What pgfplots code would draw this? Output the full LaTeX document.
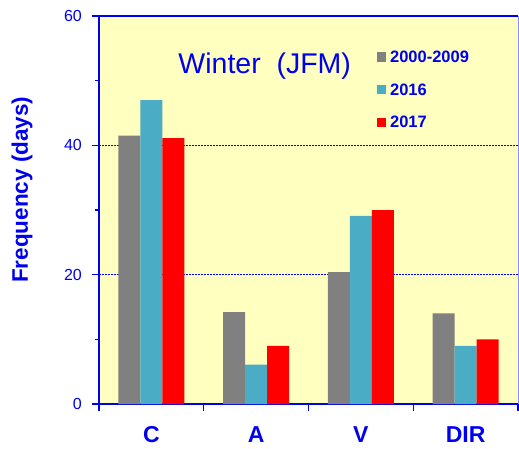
\documentclass[border=0pt]{standalone}
\usepackage{pgfplots}
\pgfplotsset{compat=1.18}
\usepackage{fontspec}
\setmainfont{Liberation Sans}
\definecolor{bg}{RGB}{255,255,192}
\definecolor{cgray}{RGB}{128,128,128}
\definecolor{cteal}{RGB}{75,172,198}
\definecolor{cred}{RGB}{255,0,0}
\definecolor{tblue}{RGB}{0,0,240}
\begin{document}
\begin{tikzpicture}
\useasboundingbox (-99pt,-44pt) rectangle (420pt,404pt);
\begin{axis}[
  at={(0pt,0pt)}, anchor=south west,
  scale only axis, width=419pt, height=388pt,
  xmin=-0.5, xmax=3.5, ymin=0, ymax=60,
  axis lines*=left,
  axis line style={tblue, line width=1.6pt},
  axis background/.style={fill=bg},
  ybar=0pt, bar width=22pt,
  xtick={-0.5,0.5,1.5,2.5,3.5}, xticklabels={C,A,V,DIR,{}},
  xticklabel style={font=\fontsize{23}{23}\selectfont\bfseries, text=tblue, anchor=north, inner sep=0pt, yshift=-15pt, xshift=52.4pt},
  ytick={0,20,40,60}, minor ytick={10,30,50},
  tick align=outside, major tick length=7pt, minor tick length=3.5pt,
  tick style={tblue, line width=1.2pt},
  /pgf/number format/assume math mode=true,
  yticklabel style={font=\fontsize{16}{16}\selectfont, text=tblue, anchor=east, inner sep=0pt, xshift=-10pt},
  ymajorgrids, grid style={tblue, dash pattern=on 2pt off 1pt, line width=0.6pt},
  ylabel={Frequency (days)},
  every axis y label/.style={at={(rel axis cs:0,0.552)}, xshift=-77pt, rotate=90, anchor=center, font=\fontsize{22.5}{22.5}\selectfont\bfseries, text=tblue},
  legend image code/.code={\fill[#1] (0pt,-4.6pt) rectangle (9.3pt,4.6pt);},
  legend style={draw=none, fill=none, at={(rel axis cs:0.663,0.909)}, anchor=north west, inner sep=0pt, outer sep=0pt, font=\fontsize{16.5}{16.5}\selectfont\bfseries, text=tblue, row sep=21pt, nodes={inner sep=0pt, text depth=0pt}, /tikz/every odd column/.append style={column sep=4pt}},
  legend cell align=left,
  clip=false,
]
\addplot[fill=cgray, draw=none] coordinates {(0,41.5) (1,14.2) (2,20.4) (3,14.0)};
\addplot[fill=cteal, draw=none] coordinates {(0,47.0) (1,6.1) (2,29.1) (3,9.0)};
\addplot[fill=cred, draw=none] coordinates {(0,41.1) (1,9.0) (2,30.0) (3,10.0)};
\legend{2000-2009,2016,2017}
\draw[tblue, line width=1.4pt] (rel axis cs:0,1) -- (rel axis cs:1,1);
\draw[tblue!45, line width=0.8pt] (rel axis cs:1,1) -- (rel axis cs:1,0);
\node[anchor=base, font=\fontsize{28.5}{28.5}\selectfont, text=tblue] at (rel axis cs:0.3955,0.852) {Winter\ \ (JFM)};
\end{axis}
\end{tikzpicture}
\end{document}
